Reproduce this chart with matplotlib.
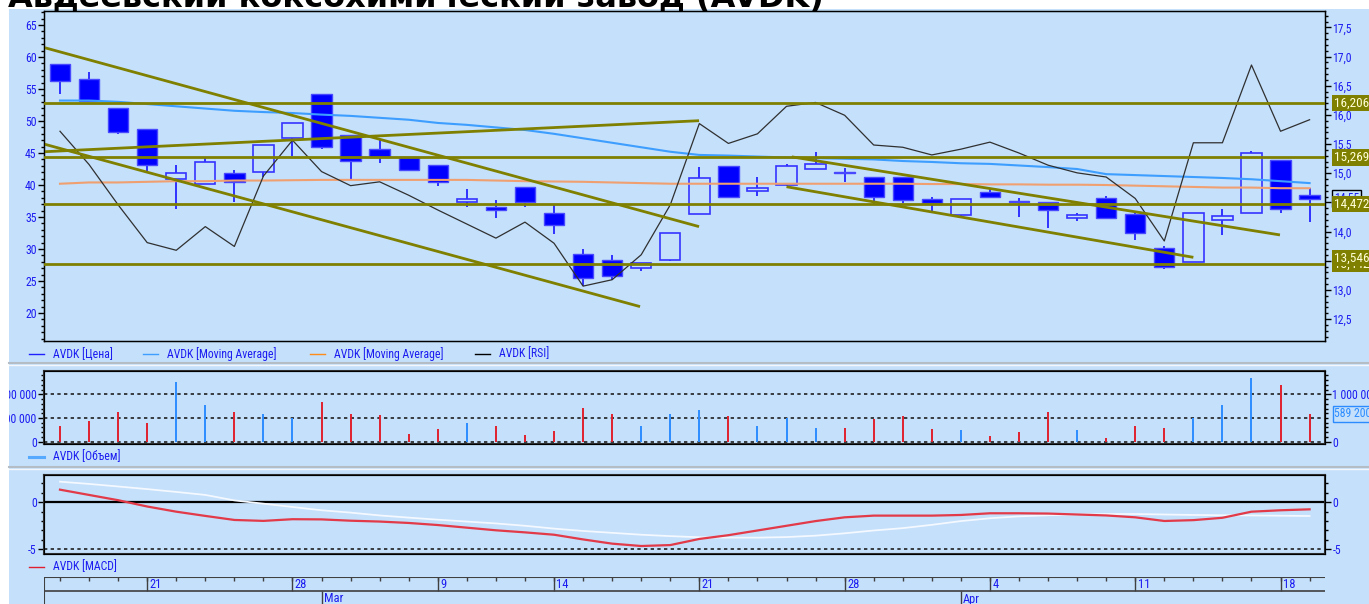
import numpy as np
import pandas as pd
import matplotlib
matplotlib.use("Agg")
import matplotlib.pyplot as plt
from matplotlib import font_manager
from matplotlib.lines import Line2D
from matplotlib.patches import Rectangle
from matplotlib.transforms import Bbox, TransformedBbox
from matplotlib.ticker import MultipleLocator, FixedLocator, FuncFormatter

# pick a narrow face if one is installed (the original uses a small narrow UI font)
fonts = font_manager.fontManager.ttflist
names = {f.name for f in fonts}
narrow = next((n for n in ['Liberation Sans Narrow', 'Roboto Condensed', 'Open Sans Condensed']
               if n in names), None)
if narrow is None:
    narrow = 'Liberation Sans'
    if any(f.name == 'DejaVu Sans' and str(f.stretch) in ('condensed', 'semi-condensed', '300', '400')
           for f in fonts):
        narrow = 'DejaVu Sans'
        plt.rcParams['font.stretch'] = 'condensed'
plt.rcParams['font.family'] = [narrow, 'DejaVu Sans']
plt.rcParams['axes.unicode_minus'] = False

# ---- data ----
dates = pd.to_datetime([
    "2011-02-16", "2011-02-17", "2011-02-18", "2011-02-21", "2011-02-22", "2011-02-23",
    "2011-02-24", "2011-02-25", "2011-02-28", "2011-03-01", "2011-03-02", "2011-03-03",
    "2011-03-04", "2011-03-09", "2011-03-10", "2011-03-11", "2011-03-12", "2011-03-14",
    "2011-03-15", "2011-03-16", "2011-03-17", "2011-03-18", "2011-03-21", "2011-03-22",
    "2011-03-23", "2011-03-24", "2011-03-25", "2011-03-28", "2011-03-29", "2011-03-30",
    "2011-03-31", "2011-04-01", "2011-04-04", "2011-04-05", "2011-04-06", "2011-04-07",
    "2011-04-08", "2011-04-11", "2011-04-12", "2011-04-13", "2011-04-14", "2011-04-15",
    "2011-04-18", "2011-04-19"])

open_ = [58.9, 56.5, 52.0, 48.8, 40.9, 40.2, 41.9, 42.1, 47.4, 54.2, 47.8, 45.6, 44.3, 43.1,
         37.4, 36.5, 39.75, 35.6, 29.2, 28.3, 27.0, 28.3, 35.5, 43.0, 39.0, 40.0, 42.5, 42.1,
         41.3, 41.25, 37.8, 35.3, 38.9, 37.5, 37.3, 34.9, 37.9, 35.4, 30.2, 28.0, 34.6, 35.6,
         43.9, 38.4]
high = [58.9, 57.6, 52.0, 48.8, 43.2, 44.4, 42.3, 46.25, 49.7, 54.2, 47.8, 47.0, 44.3, 43.1,
        39.4, 37.7, 39.75, 36.8, 30.0, 29.1, 27.8, 32.55, 42.8, 43.0, 41.3, 43.3, 45.2, 42.6,
        41.3, 41.25, 38.1, 37.8, 39.3, 37.9, 37.3, 35.6, 38.3, 35.8, 30.5, 35.6, 36.2, 45.3,
        43.9, 39.5]
low = [54.3, 53.2, 47.9, 42.1, 36.2, 40.2, 37.4, 41.3, 44.6, 45.6, 40.8, 43.4, 42.35, 39.8,
       36.5, 34.8, 36.5, 32.4, 24.2, 25.2, 26.5, 28.2, 35.5, 38.0, 38.3, 39.8, 42.5, 40.4,
       37.0, 37.2, 35.9, 35.0, 38.1, 35.0, 33.3, 34.3, 34.8, 31.4, 26.8, 28.0, 32.2, 35.6,
       35.7, 34.2]
close = [56.2, 53.2, 48.3, 43.1, 41.9, 43.6, 40.5, 46.25, 49.7, 45.9, 43.75, 44.3, 42.35, 40.4,
         37.8, 36.1, 37.4, 33.75, 25.4, 25.8, 27.8, 32.55, 41.15, 38.1, 39.5, 43.0, 43.3, 41.8,
         38.1, 37.7, 37.2, 37.8, 38.1, 37.4, 36.1, 35.3, 34.8, 32.45, 27.2, 35.6, 35.2, 45.0,
         36.2, 37.8]

ma_blue = [53.2, 53.2, 53.0, 52.65, 52.3, 51.95, 51.6, 51.4, 51.25, 51.0, 50.8, 50.5, 50.2, 49.7,
           49.4, 49.0, 48.6, 48.0, 47.3, 46.6, 45.9, 45.2, 44.7, 44.6, 44.45, 44.3, 44.2, 44.1,
           44.0, 43.75, 43.6, 43.4, 43.3, 43.05, 42.8, 42.5, 41.7, 41.55, 41.4, 41.25, 41.1,
           40.9, 40.6, 40.3]
ma_orange = [40.2, 40.4, 40.4, 40.5, 40.6, 40.6, 40.7, 40.7, 40.75, 40.8, 40.8, 40.8, 40.8, 40.8,
             40.8, 40.7, 40.6, 40.55, 40.5, 40.4, 40.3, 40.2, 40.2, 40.2, 40.2, 40.2, 40.2, 40.2,
             40.2, 40.2, 40.15, 40.15, 40.1, 40.1, 40.05, 40.05, 40.0, 39.9, 39.8, 39.7, 39.6,
             39.6, 39.5, 39.5]
# RSI as it is drawn against the price scale
rsi_line = [48.4, 43.2, 36.9, 31.0, 29.8, 33.5, 30.4, 41.4, 47.0, 42.1, 39.9, 40.5, 38.4, 36.1,
            33.9, 31.7, 34.2, 30.9, 24.2, 25.2, 29.1, 36.9, 49.6, 46.5, 48.0, 52.3, 52.9, 50.9,
            46.25, 45.9, 44.7, 45.6, 46.7, 45.0, 43.1, 41.9, 41.25, 37.9, 31.25, 46.6, 46.6,
            58.75, 48.4, 50.2]

# trend lines: (start index, start price, end index, end price)
trend_lines = [(-0.52, 61.45, 21.99, 33.5),
               (-0.55, 46.4, 19.96, 21.0),
               (-0.55, 45.2, 21.99, 50.05),
               (25.18, 44.4, 41.98, 32.2),
               (25.0, 39.73, 39.0, 28.7)]
level_values = [16.2068, 15.2699, 14.4720, 13.4420]
level_labels = ["16,2068", "15,2699", "14,4720", "13,5462", "13,4420"]
level_label_values = [16.2068, 15.2699, 14.4720, 13.5462, 13.4420]
last_mark = 14.55

volume = [330000, 440000, 630000, 390000, 1250000, 780000, 630000, 585000, 510000, 840000,
          585000, 560000, 160000, 270000, 390000, 330000, 140000, 220000, 710000, 585000,
          330000, 585000, 670000, 540000, 330000, 490000, 280000, 280000, 480000, 540000,
          270000, 245000, 110000, 200000, 630000, 245000, 75000, 340000, 280000, 490000,
          780000, 1340000, 1200000, 589200]

macd = [1.34, 0.78, 0.22, -0.45, -1.0, -1.45, -1.88, -1.98, -1.8, -1.82, -1.96, -2.05, -2.2,
        -2.42, -2.7, -2.98, -3.2, -3.45, -3.95, -4.4, -4.65, -4.55, -3.9, -3.5, -3.0, -2.5,
        -2.0, -1.6, -1.42, -1.42, -1.42, -1.35, -1.17, -1.17, -1.2, -1.3, -1.4, -1.6, -1.99,
        -1.9, -1.65, -1.0, -0.85, -0.75]
macd_signal = [2.19, 1.95, 1.68, 1.4, 1.1, 0.78, 0.2, -0.15, -0.5, -0.85, -1.1, -1.4, -1.63,
               -1.85, -2.05, -2.25, -2.5, -2.8, -3.05, -3.25, -3.45, -3.6, -3.72, -3.76, -3.76,
               -3.7, -3.55, -3.3, -3.0, -2.75, -2.4, -2.0, -1.7, -1.5, -1.38, -1.3, -1.25,
               -1.25, -1.3, -1.35, -1.38, -1.4, -1.43, -1.46]

title = "Авдеевский коксохимический завод (AVDK)"

# ---- layout ----
W, H = 1369, 604
BG = '#C4E0FB'
BLUE_TXT = '#1C1CF0'
OLIVE = '#7F7F00'
FS = 8


def fx(px):
    return px / W


def fy(py):
    return 1 - py / H


def rect(x0, y0, x1, y1):
    return [x0 / W, 1 - y1 / H, (x1 - x0) / W, (y1 - y0) / H]


fig = plt.figure(figsize=(W / 100, H / 100), dpi=100, facecolor='white')
fig.add_artist(Rectangle((fx(9), 0), 1 - fx(9), fy(9), transform=fig.transFigure,
                         facecolor=BG, edgecolor='none', zorder=-10))
panel_clip = TransformedBbox(Bbox([[fx(9), 0], [1, fy(9)]]), fig.transFigure)

xlim = (-0.5506, 43.53)
x = np.arange(len(dates))
o, h, l, c = map(np.array, (open_, high, low, close))
up = c >= o

comma = FuncFormatter(lambda v, p: f"{v:.1f}".replace('.', ','))
spaced = FuncFormatter(lambda v, p: f"{int(round(v)):,}".replace(',', ' '))


def style_y(a, side):
    a.tick_params(axis='y', which='major', length=4.3, width=1, labelsize=FS + 0.5,
                  labelcolor=BLUE_TXT, pad=1, left=(side == 'left'), right=(side == 'right'),
                  labelleft=(side == 'left'), labelright=(side == 'right'))
    a.tick_params(axis='y', which='minor', length=2.2, width=1,
                  left=(side == 'left'), right=(side == 'right'))
    a.tick_params(axis='x', which='both', bottom=False, labelbottom=False)


# main price panel
ax = fig.add_axes(rect(44, 10.5, 1325, 341), facecolor=BG)
ax.set_xlim(*xlim)
ax.set_ylim(15.625, 67.27)
ax.yaxis.set_major_locator(MultipleLocator(5))
ax.yaxis.set_minor_locator(MultipleLocator(1))
style_y(ax, 'left')

lo = np.minimum(o, c)
hi = np.maximum(o, c)
ax.vlines(x, l, lo, color='#2424FF', lw=1.3, zorder=2)
ax.vlines(x, hi, h, color='#2424FF', lw=1.3, zorder=2)
bh = np.maximum(hi - lo, 0.15)
ax.bar(x[~up], bh[~up], 0.7, bottom=lo[~up], color='#0000FF', edgecolor='#4848FF',
       lw=1.0, zorder=2)
ax.bar(x[up], bh[up], 0.7, bottom=lo[up], facecolor='none', edgecolor='#3434FF',
       lw=1.2, zorder=2)

ax.plot(x, ma_blue, color='#3D9EFF', lw=1.5, zorder=3)
ax.plot(x, ma_orange, color='#F0A070', lw=1.5, zorder=3)
ax.plot(x, rsi_line, color='#303030', lw=0.9, zorder=3)
for x0, y0, x1, y1 in trend_lines:
    ax.plot([x0, x1], [y0, y1], color=OLIVE, lw=2.0, zorder=4, solid_capstyle='butt')
for s in ax.spines.values():
    s.set_color('black')
    s.set_linewidth(1)

axr = ax.twinx()
axr.set_ylim(12.124, 17.79)
axr.yaxis.set_major_locator(MultipleLocator(0.5))
axr.yaxis.set_minor_locator(MultipleLocator(0.1))
axr.yaxis.set_major_formatter(comma)
style_y(axr, 'right')
for v in level_values:
    axr.axhline(v, color=OLIVE, lw=2.0, zorder=4)

tr = axr.get_yaxis_transform()
lab_x = (1334 - 44) / (1325 - 44)
axr.text(lab_x, last_mark + 0.02, f"{last_mark:.2f}".replace('.', ','), transform=tr,
         ha='left', va='center', fontsize=FS + 0.5, color=BLUE_TXT, clip_on=False, zorder=5,
         bbox=dict(boxstyle='square,pad=0.15', facecolor=BG, edgecolor='black', lw=1))
for txt, v in zip(level_labels[::-1], level_label_values[::-1]):
    axr.text(lab_x, v, txt, transform=tr, ha='left', va='center', fontsize=FS + 1.5,
             color='#FFFFD8', clip_on=False, zorder=6,
             bbox=dict(boxstyle='square,pad=0.12', facecolor=OLIVE, edgecolor='none'))

# volume panel
axv = fig.add_axes(rect(44, 371, 1325, 444), facecolor=BG)
axv.set_xlim(*xlim)
axv.set_ylim(-48500, 1491600)
axv.yaxis.set_major_locator(FixedLocator([0, 500000, 1000000]))
axv.yaxis.set_minor_locator(MultipleLocator(100000))
axv.yaxis.set_major_formatter(spaced)
style_y(axv, 'left')
for t in axv.yaxis.get_major_ticks():
    t.label1.set_clip_box(panel_clip)
    t.label1.set_clip_on(True)
vcol = np.where(up, '#2C8CFF', '#E0202C')
axv.vlines(x, 0, volume, colors=vcol, lw=1.4, zorder=3)
for v in (0, 500000, 1000000):
    axv.axhline(v, color='#202020', lw=1.2, ls=(0, (2, 2)), zorder=2)
for s in axv.spines.values():
    s.set_color('#303030')
    s.set_linewidth(1.5)
axv2 = axv.twinx()
axv2.set_ylim(axv.get_ylim())
axv2.yaxis.set_major_locator(FixedLocator([0, 1000000]))
axv2.yaxis.set_minor_locator(MultipleLocator(100000))
axv2.yaxis.set_major_formatter(spaced)
style_y(axv2, 'right')
axv2.text(lab_x, volume[-1], spaced(volume[-1], None), transform=axv2.get_yaxis_transform(),
          ha='left', va='center', fontsize=FS + 0.5, color='#2C8CFF', clip_on=False, zorder=5,
          bbox=dict(boxstyle='square,pad=0.12', facecolor=BG, edgecolor='#2C8CFF', lw=1))

# MACD panel
axm = fig.add_axes(rect(44, 475, 1325, 554), facecolor=BG)
axm.set_xlim(*xlim)
axm.set_ylim(-5.5, 2.9)
axm.yaxis.set_major_locator(FixedLocator([-5, 0]))
axm.yaxis.set_minor_locator(MultipleLocator(1))
style_y(axm, 'left')
axm.axhline(0, color='black', lw=1.6, zorder=2)
axm.axhline(-5, color='#202020', lw=1.2, ls=(0, (2, 2)), zorder=2)
axm.plot(x, macd_signal, color='#F4F8FF', lw=1.3, zorder=3)
axm.plot(x, macd, color='#E23A48', lw=1.6, zorder=4)
for s in axm.spines.values():
    s.set_color('#303030')
    s.set_linewidth(1.5)
axm2 = axm.twinx()
axm2.set_ylim(axm.get_ylim())
axm2.yaxis.set_major_locator(FixedLocator([-5, 0]))
axm2.yaxis.set_minor_locator(MultipleLocator(1))
style_y(axm2, 'right')

# date axis
axd = fig.add_axes(rect(44, 577, 1325, 606), facecolor=BG)
axd.set_xlim(*xlim)
axd.set_ylim(29, 0)
axd.axis('off')
dk = '#404040'
axd.axhline(0, color=dk, lw=1.5)
axd.axhline(14, color=dk, lw=1.2)
axd.axvline(xlim[0], color=dk, lw=1.5)
axd.vlines(x, 0, 4, color=dk, lw=1)
week = dates.isocalendar().week.values
for i in range(1, len(dates)):
    if week[i] != week[i - 1]:
        axd.vlines(i, 0, 14, color=dk, lw=1)
        axd.text(i + 0.08, 7.5, str(dates[i].day), fontsize=FS + 1, color=BLUE_TXT,
                 ha='left', va='center')
    if dates[i].month != dates[i - 1].month:
        axd.vlines(i, 14, 29, color=dk, lw=1)
        axd.text(i + 0.08, 22, dates[i].strftime('%b'), fontsize=FS + 1, color=BLUE_TXT,
                 ha='left', va='center')

# separators and legends
for yy in (363, 467):
    fig.add_artist(Line2D([fx(9), 1], [fy(yy), fy(yy)], color='#B4BCC6', lw=1.5))
    fig.add_artist(Line2D([fx(9), 1], [fy(yy + 1.5), fy(yy + 1.5)], color='#F4F8FC', lw=1))


def legend_item(x0, y, color, text, lw=1.0):
    fig.add_artist(Line2D([fx(x0), fx(x0 + 15)], [fy(y), fy(y)], color=color, lw=lw))
    fig.text(fx(x0 + 24), fy(y), text, fontsize=FS + 0.5, color=BLUE_TXT, ha='left',
             va='center')


legend_item(29, 354, '#2020FF', "AVDK [Цена]")
legend_item(143, 354, '#3D9EFF', "AVDK [Moving Average]")
legend_item(310, 354, '#FF8C1A', "AVDK [Moving Average]")
legend_item(475, 354, 'black', "AVDK [RSI]")
legend_item(29, 457, '#55AAFF', "AVDK [Объем]", lw=2.2)
legend_item(29, 567, '#E02030', "AVDK [MACD]")

fig.text(fx(8), fy(6.5), title, fontsize=23, fontweight='bold', family='DejaVu Sans',
         fontstretch='normal', color='black', ha='left', va='baseline')

fig.savefig('out.png', dpi=100, facecolor=fig.get_facecolor())
